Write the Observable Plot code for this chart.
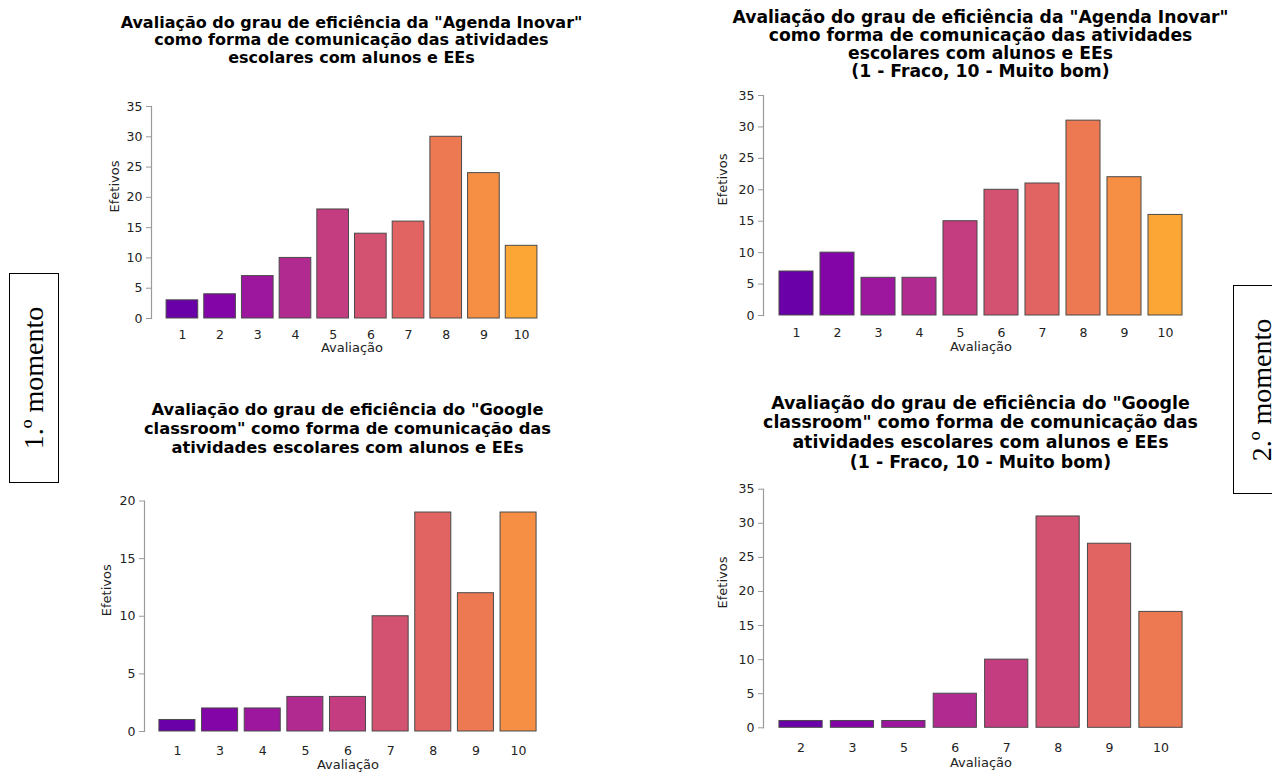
<!DOCTYPE html>
<html>
<head>
<meta charset="utf-8">
<script src="https://cdn.jsdelivr.net/npm/d3@7"></script>
<script src="https://cdn.jsdelivr.net/npm/@observablehq/plot@0.6"></script>
<style>
  html, body { margin: 0; padding: 0; background: #fff; }
  body { position: relative; width: 1272px; height: 773px; overflow: hidden; font-family: "DejaVu Sans", sans-serif; }
  .panel { position: absolute; }
  .title { position: absolute; transform: translateX(-50%); text-align: center; font-weight: bold; color: #000; white-space: nowrap; font-family: "DejaVu Sans", sans-serif; }
  .moment { position: absolute; box-sizing: border-box; border: 1.5px solid #000; display: flex; align-items: center; justify-content: center; background: #fff; }
  .moment span { display: block; transform: rotate(-90deg); white-space: nowrap; font-family: "Liberation Serif", "Times New Roman", serif; font-size: 28px; color: #000; }
</style>
</head>
<body>
<script>
// ---- data ----
const palette = ["#6a00a8", "#8405a7", "#9c179e", "#b12a90", "#c33d80", "#d35171", "#e16462", "#ed7953", "#f68f44", "#fca636"];

const agenda1Ratings = ["1", "2", "3", "4", "5", "6", "7", "8", "9", "10"];
const agenda1Counts = [3, 4, 7, 10, 18, 14, 16, 30, 24, 12];

const agenda2Ratings = ["1", "2", "3", "4", "5", "6", "7", "8", "9", "10"];
const agenda2Counts = [7, 10, 6, 6, 15, 20, 21, 31, 22, 16];

const classroom1Ratings = ["1", "3", "4", "5", "6", "7", "8", "9", "10"];
const classroom1Counts = [1, 2, 2, 3, 3, 10, 19, 12, 19];

const classroom2Ratings = ["2", "3", "5", "6", "7", "8", "9", "10"];
const classroom2Counts = [1, 1, 1, 5, 10, 31, 27, 17];

const ticks35 = [0, 5, 10, 15, 20, 25, 30, 35];
const ticks20 = [0, 5, 10, 15, 20];

const agenda1Title = ['Avaliação do grau de eficiência da "Agenda Inovar"', 'como forma de comunicação das atividades', 'escolares com alunos e EEs'];
const agenda2Title = ['Avaliação do grau de eficiência da "Agenda Inovar"', 'como forma de comunicação das atividades', 'escolares com alunos e EEs', '(1 - Fraco, 10 - Muito bom)'];
const classroom1Title = ['Avaliação do grau de eficiência do "Google', 'classroom" como forma de comunicação das', 'atividades escolares com alunos e EEs'];
const classroom2Title = ['Avaliação do grau de eficiência do "Google', 'classroom" como forma de comunicação das', 'atividades escolares com alunos e EEs', '(1 - Fraco, 10 - Muito bom)'];

const xTitle = "Avaliação";
const yTitle = "Efetivos";
const momentLabels = ["1.º momento", "2.º momento"];

// ---- drawing ----
function panel(cfg) {
  const rows = cfg.ratings.map((r, i) => ({ r, v: cfg.counts[i] }));
  const chart = Plot.plot({
    width: cfg.width,
    height: cfg.height,
    marginLeft: cfg.m[0], marginRight: cfg.m[1], marginTop: cfg.m[2], marginBottom: cfg.m[3],
    style: { fontFamily: "DejaVu Sans", fontSize: "12.5px", color: "#222", background: "transparent", overflow: "visible" },
    x: { type: "band", domain: cfg.ratings, paddingInner: cfg.pIn, paddingOuter: cfg.pOut, round: false },
    y: { domain: [0, cfg.yMax] },
    color: { type: "ordinal", domain: cfg.ratings, range: palette.slice(0, cfg.ratings.length) },
    marks: [
      Plot.barY(rows, { x: "r", y: "v", fill: "r", stroke: "#4a4a4a", strokeWidth: 1 }),
      Plot.frame({ anchor: "left", stroke: "#9a9a9a", strokeWidth: 1.2 }),
      Plot.axisY({ ticks: cfg.yTicks, tickSize: 5, tickPadding: 4, stroke: "#9a9a9a", fill: "#222", fontSize: 12.5, label: null }),
      Plot.axisX({ tickSize: 0, tickPadding: cfg.xPad, fill: "#222", fontSize: 12.5, label: null }),
      Plot.text([xTitle], { text: d => d, frameAnchor: "bottom", dy: cfg.xLabelDy, fontSize: 13, fill: "#222" }),
      Plot.text([yTitle], { text: d => d, frameAnchor: "left", rotate: -90, dx: cfg.yLabelDx, fontSize: 13, fill: "#222" })
    ]
  });
  chart.classList.add("panel");
  chart.style.left = cfg.left + "px";
  chart.style.top = cfg.top + "px";
  document.body.appendChild(chart);

  const t = document.createElement("div");
  t.className = "title";
  t.style.left = cfg.tx + "px";
  t.style.top = cfg.ty + "px";
  t.style.fontSize = cfg.tSize + "px";
  t.style.lineHeight = cfg.tLH + "px";
  cfg.title.forEach((line, i) => {
    if (i) t.appendChild(document.createElement("br"));
    t.appendChild(document.createTextNode(line));
  });
  document.body.appendChild(t);
}

panel({ ratings: agenda1Ratings, counts: agenda1Counts, yMax: 35, yTicks: ticks35,
  left: 60, top: 90, width: 500, height: 280, m: [91, 8, 16, 52], pIn: 0.16, pOut: 0.4,
  xPad: 12, xLabelDy: 33.7, yLabelDx: -37,
  title: agenda1Title, tx: 351.5, ty: 14, tSize: 16, tLH: 17.3 });

panel({ ratings: agenda2Ratings, counts: agenda2Counts, yMax: 35, yTicks: ticks35,
  left: 680, top: 80, width: 530, height: 290, m: [83, 12, 15, 55], pIn: 0.17, pOut: 0.39,
  xPad: 13, xLabelDy: 35, yLabelDx: -40.3,
  title: agenda2Title, tx: 980.5, ty: 7.5, tSize: 17.2, tLH: 18.3 });

panel({ ratings: classroom1Ratings, counts: classroom1Counts, yMax: 20, yTicks: ticks20,
  left: 60, top: 480, width: 500, height: 293, m: [84, 9, 20.5, 42], pIn: 0.155, pOut: 0.35,
  xPad: 14.6, xLabelDy: 37.3, yLabelDx: -37.3,
  title: classroom1Title, tx: 347.5, ty: 399.5, tSize: 16.3, tLH: 19 });

panel({ ratings: classroom2Ratings, counts: classroom2Counts, yMax: 35, yTicks: ticks35,
  left: 680, top: 475, width: 530, height: 298, m: [83, 12, 13.7, 45.7], pIn: 0.16, pOut: 0.31,
  xPad: 15.3, xLabelDy: 39, yLabelDx: -40.3,
  title: classroom2Title, tx: 980.5, ty: 393.5, tSize: 17.4, tLH: 19.7 });

// side "momento" boxes
[[9, 273, 50, 210], [1233, 285, 58, 209]].forEach((b, i) => {
  const box = document.createElement("div");
  box.className = "moment";
  box.style.left = b[0] + "px";
  box.style.top = b[1] + "px";
  box.style.width = b[2] + "px";
  box.style.height = b[3] + "px";
  const s = document.createElement("span");
  s.textContent = momentLabels[i];
  box.appendChild(s);
  document.body.appendChild(box);
});
</script>
</body>
</html>
